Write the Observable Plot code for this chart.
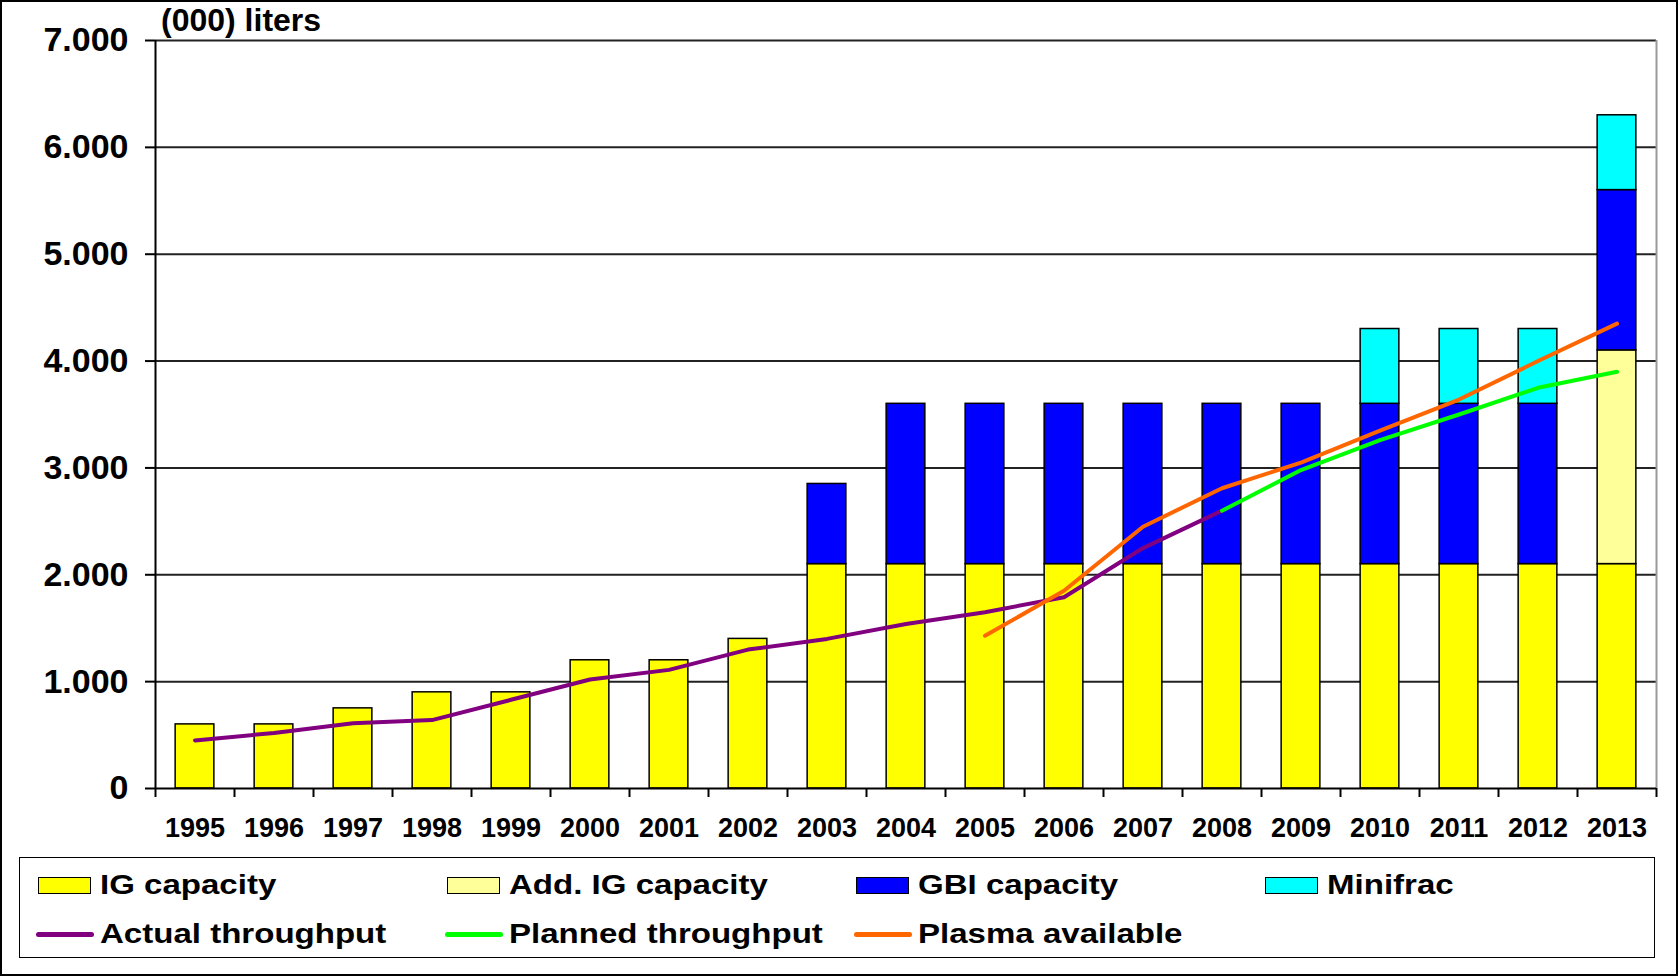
<!DOCTYPE html>
<html>
<head>
<meta charset="utf-8">
<script src="https://cdn.jsdelivr.net/npm/d3@7"></script>
<script src="https://cdn.jsdelivr.net/npm/@observablehq/plot@0.6"></script>
<style>
  html, body { margin: 0; padding: 0; background: #fff; }
  #frame {
    position: relative; width: 1678px; height: 976px; overflow: hidden; background: #fff;
    font-family: "Liberation Sans", Arial, sans-serif; font-weight: bold; color: #000;
  }
  #border { position: absolute; inset: 0; border: 2px solid #000; box-sizing: border-box; pointer-events: none; }
  #chart { position: absolute; left: 0; top: 0; }
  #unit { position: absolute; left: 161px; top: 4px; font-size: 32px; line-height: 32px; white-space: nowrap; }
  #legend {
    position: absolute; left: 19px; top: 857px; width: 1636px; height: 101px;
    border: 1.5px solid #000; box-sizing: border-box; background: #fff;
  }
  .item { position: absolute; height: 30px; display: flex; align-items: center; white-space: nowrap; }
  .swatch { width: 53px; height: 17px; border: 1.5px solid #000; box-sizing: border-box; }
  .stroke { width: 58px; height: 5px; border-radius: 2.5px; }
  .label { font-size: 28px; line-height: 30px; transform: scaleX(1.18); transform-origin: left center; }
</style>
</head>
<body>
<div id="frame">
  <div id="chart"></div>
  <div id="unit">(000) liters</div>
  <div id="legend"></div>
  <div id="border"></div>
</div>
<script>
// Plasma fractionation capacity and throughput, thousands of liters per year
const years = [1995, 1996, 1997, 1998, 1999, 2000, 2001, 2002, 2003, 2004,
               2005, 2006, 2007, 2008, 2009, 2010, 2011, 2012, 2013];

// stacked capacity components
const igCapacity    = [600, 600, 750, 900, 900, 1200, 1200, 1400, 2100, 2100,
                       2100, 2100, 2100, 2100, 2100, 2100, 2100, 2100, 2100];
const addIgCapacity = [0, 0, 0, 0, 0, 0, 0, 0, 0, 0,
                       0, 0, 0, 0, 0, 0, 0, 0, 2000];
const gbiCapacity   = [0, 0, 0, 0, 0, 0, 0, 0, 750, 1500,
                       1500, 1500, 1500, 1500, 1500, 1500, 1500, 1500, 1500];
const minifrac      = [0, 0, 0, 0, 0, 0, 0, 0, 0, 0,
                       0, 0, 0, 0, 0, 700, 700, 700, 700];

// throughput lines (null where a series has no value)
const actualThroughput  = [450, 520, 610, 640, 830, 1020, 1110, 1300, 1400, 1540,
                           1650, 1790, 2250, 2600, null, null, null, null, null];
const plannedThroughput = [null, null, null, null, null, null, null, null, null, null,
                           null, null, null, 2600, 2980, 3260, 3500, 3750, 3900];
const plasmaAvailable   = [null, null, null, null, null, null, null, null, null, null,
                           1430, 1850, 2450, 2810, 3050, 3350, 3640, 4000, 4350];

const yTicks = [0, 1000, 2000, 3000, 4000, 5000, 6000, 7000];

const barSeries = [
  {name: "IG capacity",      values: igCapacity,    color: "#ffff00"},
  {name: "Add. IG capacity", values: addIgCapacity, color: "#ffff99"},
  {name: "GBI capacity",     values: gbiCapacity,   color: "#0000ff"},
  {name: "Minifrac",         values: minifrac,      color: "#00ffff"}
];
const lineSeries = [
  {name: "Actual throughput",  values: actualThroughput,  color: "#800080"},
  {name: "Planned throughput", values: plannedThroughput, color: "#00ff00"},
  {name: "Plasma available",   values: plasmaAvailable,   color: "#ff6600"}
];

// stack the capacity segments per year
const segments = [];
years.forEach((year, i) => {
  let base = 0;
  for (const s of barSeries) {
    const v = s.values[i];
    if (v > 0) {
      segments.push({year, series: s.name, y1: base, y2: base + v});
      base += v;
    }
  }
});

const lineRows = lineSeries.flatMap(s =>
  years.map((year, i) => ({year, series: s.name, value: s.values[i]})));

const barHalf = 0.245;
const xDomain = [years[0] - 0.5, years[years.length - 1] + 0.5];
const yDomain = [yTicks[0], yTicks[yTicks.length - 1]];
const boundaries = [...years.map(y => y - 0.5), xDomain[1]];

const fmt = d3.formatLocale({decimal: ",", thousands: ".", grouping: [3], currency: ["", ""]}).format(",d");

const allNames = [...barSeries, ...lineSeries].map(s => s.name);
const allColors = [...barSeries, ...lineSeries].map(s => s.color);

const chart = Plot.plot({
  width: 1678,
  height: 850,
  marginTop: 40,
  marginBottom: 62,
  marginLeft: 155,
  marginRight: 22,
  x: {type: "linear", domain: xDomain, axis: null},
  y: {domain: yDomain, axis: null},
  color: {domain: allNames, range: allColors},
  style: {fontFamily: "'Liberation Sans', Arial, sans-serif", fontWeight: "bold", background: "#fff", color: "#000", overflow: "visible"},
  marks: [
    Plot.ruleY(yTicks.slice(1), {stroke: "#222", strokeWidth: 2}),
    Plot.ruleX([xDomain[1]], {y1: yDomain[0], y2: yDomain[1], stroke: "#999", strokeWidth: 2}),
    Plot.rect(segments, {
      x1: d => d.year - barHalf,
      x2: d => d.year + barHalf,
      y1: "y1",
      y2: "y2",
      fill: "series",
      stroke: "#000",
      strokeWidth: 1.5
    }),
    Plot.ruleX([xDomain[0]], {y1: yDomain[0], y2: yDomain[1], stroke: "#000", strokeWidth: 2}),
    Plot.ruleY([yDomain[0]], {stroke: "#000", strokeWidth: 2}),
    Plot.axisY({ticks: yTicks, tickSize: 10, tickPadding: 17, tickFormat: fmt, fontSize: 34, strokeWidth: 2, stroke: "#000", label: null}),
    Plot.axisX({ticks: boundaries, tickSize: 9, tickFormat: () => "", strokeWidth: 2, stroke: "#000", label: null}),
    Plot.axisX({ticks: years, tickSize: 0, tickPadding: 29, tickFormat: d => String(d), fontSize: 27, label: null}),
    Plot.line(lineRows, {
      x: "year",
      y: "value",
      z: "series",
      stroke: "series",
      strokeWidth: 4,
      strokeLinecap: "round",
      strokeLinejoin: "round"
    })
  ]
});
document.getElementById("chart").appendChild(chart);

// legend: four capacity swatches on the first row, three lines on the second
const legend = document.getElementById("legend");
const colStep = 409;
barSeries.forEach((s, i) => {
  const item = document.createElement("div");
  item.className = "item";
  item.style.left = (18 + i * colStep) + "px";
  item.style.top = "12px";
  item.innerHTML = `<span class="swatch" style="background:${s.color}"></span><span class="label" style="margin-left:9px">${s.name}</span>`;
  legend.appendChild(item);
});
lineSeries.forEach((s, i) => {
  const item = document.createElement("div");
  item.className = "item";
  item.style.left = (16 + i * colStep) + "px";
  item.style.top = "61px";
  item.innerHTML = `<span class="stroke" style="background:${s.color}"></span><span class="label" style="margin-left:6px">${s.name}</span>`;
  legend.appendChild(item);
});
</script>
</body>
</html>
